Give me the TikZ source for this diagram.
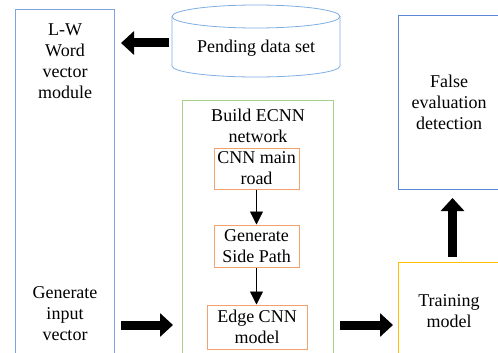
\documentclass[tikz,border=0pt]{standalone}
\usepackage{fontspec}
\setmainfont{Liberation Serif}
\usetikzlibrary{arrows.meta}
\definecolor{boxblue}{HTML}{7DA3E2}
\definecolor{boxbluedark}{HTML}{5B87D4}
\definecolor{cylblue}{HTML}{7FAEE0}
\definecolor{boxgreen}{HTML}{A9D18E}
\definecolor{boxorange}{HTML}{F2A26E}
\definecolor{boxyellow}{HTML}{FFC000}
\begin{document}
\begin{tikzpicture}[x=1pt,y=-1pt,
  txt/.style={align=center, font=\fontsize{18}{21}\selectfont, inner sep=0pt},
  frame/.style={draw, line width=1pt, inner sep=0pt, anchor=north west},
  stepframe/.style={txt, draw=boxorange, line width=1pt},
  bigarrow/.style={line width=9pt, -{Triangle[length=13pt,width=23pt]}},
  thinarrow/.style={line width=0.8pt, -{Triangle[length=13pt,width=13pt]}},
  cyl/.style={draw=cylblue, line width=0.8pt}]
\useasboundingbox (0,0) rectangle (498,353);
\clip (0,0) rectangle (498,353);

% left column: word vector module
\node[frame, draw=boxblue, minimum width=99pt, minimum height=360pt] (lw) at (15,9.5) {};
\node[txt] (lwt) at (65,61.5) {L-W\\Word\\vector\\module};
\node[txt] (giv) at (65,314) {Generate\\input\\vector};

% data store cylinder
\draw[cyl] (172,16.5) -- (172,66) arc[start angle=180,end angle=360,x radius=84pt,y radius=11pt] -- (340,16.5);
\draw[cyl] (256,16.5) ellipse[x radius=84pt, y radius=11.5pt];
\node[txt] (pend) at (256,48) {Pending data set};
\coordinate (cylside) at (172,43);

% ECNN network block
\node[frame, draw=boxgreen, minimum width=151pt, minimum height=360pt] (ecnn) at (182,100) {};
\node[txt] (bet) at (258,126) {Build ECNN\\network};
\node[stepframe, minimum width=85pt, minimum height=41pt] (main) at (256.5,168.5) {CNN main\\road};
\node[stepframe, minimum width=85pt, minimum height=42pt] (side) at (256.5,246) {Generate\\Side Path};
\node[stepframe, minimum width=100pt, minimum height=44pt] (edge) at (257,327) {Edge CNN\\model};
\draw[thinarrow] (main.south) -- (side.north);
\draw[thinarrow] (side.south) -- (side.south |- edge.north);

% right column
\node[frame, draw=boxbluedark, minimum width=102pt, minimum height=174pt] (fed) at (398,15) {};
\node[txt] (fedt) at (449,102) {False\\evaluation\\detection};
\node[frame, draw=boxyellow, minimum width=102pt, minimum height=110pt] (train) at (398,262) {};
\node[txt] (traint) at (449,311) {Training\\model};

% block arrows
\draw[bigarrow] ([xshift=-3pt]cylside) -- ([xshift=6pt]cylside -| lw.east);
\coordinate (lowrow) at (0,325);
\draw[bigarrow] ([xshift=6pt]lowrow -| lw.east) -- ([xshift=-9pt]lowrow -| ecnn.west);
\draw[bigarrow] ([xshift=6pt]lowrow -| ecnn.east) -- ([xshift=-5pt]lowrow -| train.west);
\draw[bigarrow] ([xshift=3pt,yshift=5pt]train.north) -- ([xshift=3pt,yshift=-8pt]fed.south);
\end{tikzpicture}
\end{document}
